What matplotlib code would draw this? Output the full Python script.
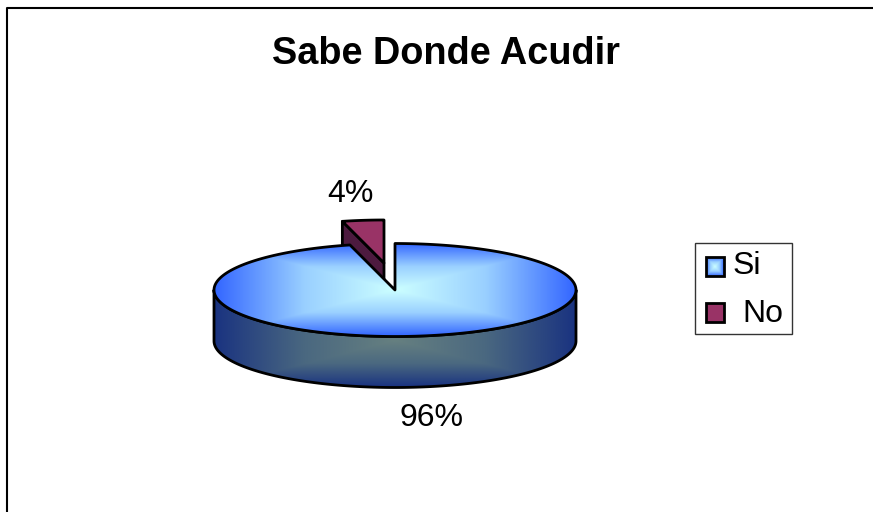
import numpy as np
import matplotlib
matplotlib.use("Agg")
import matplotlib.pyplot as plt
from matplotlib.patches import Polygon, Rectangle
from matplotlib.colors import LinearSegmentedColormap

plt.rcParams['font.family'] = ['Liberation Sans', 'DejaVu Sans']

categories = ["Si", "No"]
shares = [96, 4]
labels = ["96%", "4%"]
title = "Sabe Donde Acudir"

W, H = 873, 512
CX, CY, RX, RY, DEPTH = 395, 290, 181, 46.5, 51
OFFX, OFFY, NO_SCALE = -11, -27, 0.925
LW = 2.0

fig = plt.figure(figsize=(W / 100, H / 100), dpi=100, facecolor="white")
ax = fig.add_axes([0, 0, 1, 1])
ax.set_xlim(0, W)
ax.set_ylim(H, 0)
ax.axis("off")

top_cmap = LinearSegmentedColormap.from_list("t", ["#CCFFFF", "#9AD0FF", "#3366FF"])
side_cmap = LinearSegmentedColormap.from_list("s", ["#668080", "#4A6880", "#1A3380"])


def grad(cmap, x0, x1, y0, y1, clip, zorder):
    xs = np.linspace(-1, 1, 400)
    ys = np.linspace(-1, 1, 200)
    xx, yy = np.meshgrid(xs, ys)
    t = np.maximum(np.abs(xx), np.abs(yy))
    im = ax.imshow(t, cmap=cmap, vmin=0, vmax=1, extent=[x0, x1, y1, y0],
                   aspect="auto", zorder=zorder, interpolation="bilinear")
    im.set_clip_path(clip)


def arc(a0, a1, cx=CX, cy=CY, rx=RX, ry=RY, n=200):
    # angles clockwise from 12 o'clock, degrees
    a = np.radians(np.linspace(a0, a1, n))
    return np.column_stack([cx + rx * np.sin(a), cy - ry * np.cos(a)])


si_angle = shares[0] / sum(shares) * 360

# exploded "No" slice, behind the "Si" slice
ncx, ncy = CX + OFFX, CY + OFFY
nrx, nry = RX * NO_SCALE, RY * NO_SCALE
no_arc = arc(si_angle, 360, ncx, ncy, nrx, nry, 30)
corner = no_arc[0]
ax.add_patch(Polygon([corner, (ncx, ncy), (ncx, ncy + DEPTH), (corner[0], corner[1] + DEPTH)],
                     closed=True, fc="#4D1A3F", ec="black", lw=LW, joinstyle="round", zorder=2))
ax.add_patch(Polygon(np.vstack([[(ncx, ncy)], no_arc]), closed=True,
                     fc="#993366", ec="black", lw=LW, joinstyle="round", zorder=3))

# side wall of "Si"
front = arc(90, 270)
side_pts = np.vstack([front, front[::-1] + [0, DEPTH]])
side = Polygon(side_pts, closed=True, fc="none", ec="none", zorder=4)
ax.add_patch(side)
grad(side_cmap, CX - RX, CX + RX, CY - RY + DEPTH, CY + RY + DEPTH, side, 4)
ax.add_patch(Polygon(side_pts, closed=True, fc="none", ec="black", lw=LW, joinstyle="round", zorder=5))

# top face of "Si"
top_pts = np.vstack([[(CX, CY)], arc(0, si_angle)])
top = Polygon(top_pts, closed=True, fc="none", ec="none", zorder=6)
ax.add_patch(top)
grad(top_cmap, CX - RX, CX + RX, CY - RY, CY + RY, top, 6)
ax.add_patch(Polygon(top_pts, closed=True, fc="none", ec="black", lw=LW, joinstyle="round", zorder=7))

# chart frame (the right and bottom edges fall outside the picture)
ax.plot([7, 7, W], [H, 7.5, 7.5], color="black", lw=1.5, zorder=8)

# text
ax.text(446, 54.5, title, ha="center", va="center", fontsize=27.3, fontweight="bold", color="black")
ax.text(350.5, 194, labels[1], ha="center", va="center", fontsize=23, color="black")
ax.text(431.5, 418, labels[0], ha="center", va="center", fontsize=23, color="black")

# legend
ax.add_patch(Rectangle((695, 243), 97, 91, fc="white", ec="#333333", lw=1, zorder=8))
sw = Rectangle((705.5, 257), 18, 19, fc="none", ec="none", zorder=9)
ax.add_patch(sw)
grad(top_cmap, 705.5, 723.5, 257, 276, sw, 9)
ax.set_xlim(0, W)
ax.set_ylim(H, 0)
ax.add_patch(Rectangle((705.5, 257), 18, 19, fc="none", ec="black", lw=LW, zorder=10))
ax.add_patch(Rectangle((705.5, 303), 18, 19, fc="#993366", ec="black", lw=LW, zorder=10))
ax.text(733, 266, categories[0], ha="left", va="center", fontsize=23, color="black", zorder=10)
ax.text(742, 314, categories[1], ha="left", va="center", fontsize=23, color="black", zorder=10)

fig.savefig("out.png", dpi=100, facecolor="white")
